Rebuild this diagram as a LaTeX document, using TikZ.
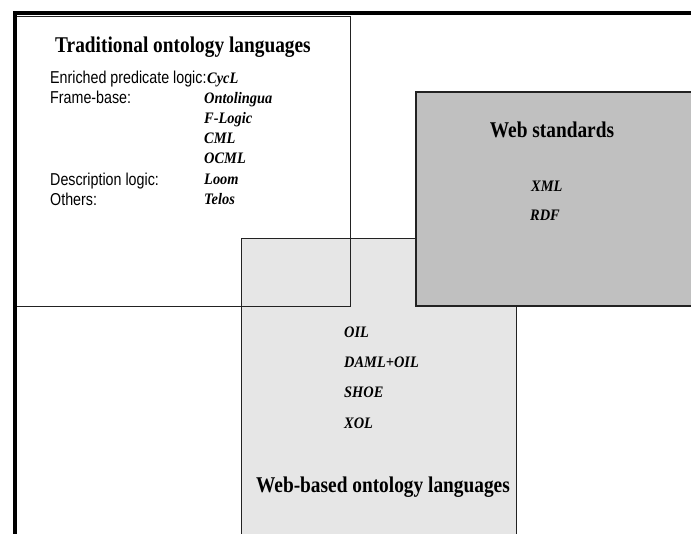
\documentclass[tikz,border=0pt]{standalone}
\usepackage{fontspec}
\setmainfont{Liberation Serif}
\newfontfamily\headfont[FakeStretch=0.86]{Liberation Serif}
\newfontfamily\lblfont[FakeStretch=0.83]{Liberation Sans}
\newfontfamily\langfont[FakeStretch=0.9]{Liberation Serif}
\definecolor{lightbox}{HTML}{E6E6E6}
\definecolor{darkbox}{HTML}{C0C0C0}
\definecolor{edge}{HTML}{222222}
\tikzset{
  headtext/.style={inner sep=0pt, anchor=base, font=\headfont\bfseries\fontsize{22.5}{22.5}\selectfont},
  lbltext/.style={inner sep=0pt, anchor=base west, font=\lblfont\fontsize{17.2}{17.2}\selectfont},
  langtext/.style={inner sep=0pt, anchor=base west, font=\langfont\bfseries\itshape\fontsize{16}{16}\selectfont},
  framebox/.style={draw=edge, line width=1pt},
}
\begin{document}
\begin{tikzpicture}[x=1pt,y=-1pt]
\useasboundingbox (0,0) rectangle (691,533);
\fill[white] (0,0) rectangle (691,533);
% web-based box
\path[fill=lightbox, framebox] (241,238) -- (241,540) -- (516,540) -- (516,238) -- cycle;
% traditional box
\draw[framebox] (16,16) rectangle (350,306);
% web standards box
\path[fill=darkbox, draw=edge, line width=1.4pt] (698,92) -- (416,92) -- (416,306) -- (698,306);
% outer frame
\draw[black, line width=4pt] (15,540) -- (15,13) -- (698,13);
% texts
\node[headtext] (trad) at (183,52) {Traditional ontology languages};
\node[lbltext] (l1) at (50,83) {Enriched predicate logic:};
\node[lbltext] (l2) at (50,103.5) {Frame-base:};
\node[lbltext] (l3) at (50,185) {Description logic:};
\node[lbltext] (l4) at (50,205) {Others:};
\node[langtext] (cycl) at (207,83) {CycL};
\node[langtext] (onto) at (204,103.5) {Ontolingua};
\node[langtext] (flog) at (204,123.5) {F-Logic};
\node[langtext] (cml) at (204,143.5) {CML};
\node[langtext] (ocml) at (204,163.5) {OCML};
\node[langtext] (loom) at (204,184) {Loom};
\node[langtext] (telos) at (204,204) {Telos};
\node[headtext] (webstd) at (552,137.5) {Web standards};
\node[langtext] (xml) at (531,191.5) {XML};
\node[langtext] (rdf) at (530,220) {RDF};
\node[langtext] (oil) at (344,337) {OIL};
\node[langtext] (daml) at (344,367) {DAML+OIL};
\node[langtext] (shoe) at (344,397) {SHOE};
\node[langtext] (xol) at (344,428) {XOL};
\node[headtext] (webbased) at (383,492.5) {Web-based ontology languages};
\end{tikzpicture}
\end{document}
